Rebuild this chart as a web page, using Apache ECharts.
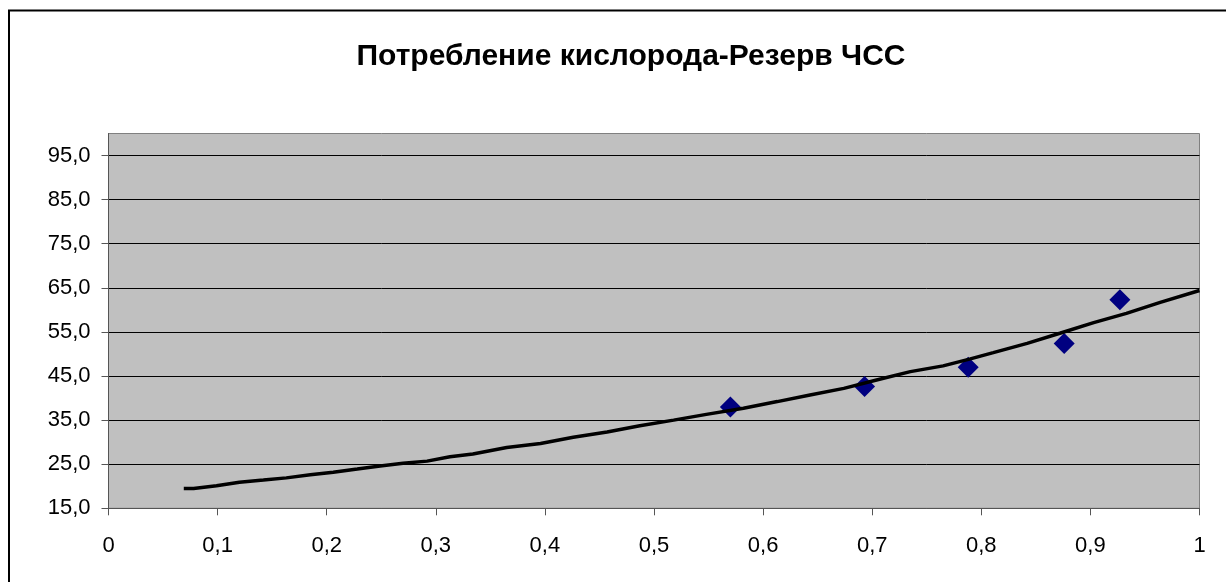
<!DOCTYPE html>
<html>
<head>
<meta charset="utf-8">
<script src="https://cdn.jsdelivr.net/npm/echarts@6/dist/echarts.min.js"></script>
<style>
html,body{margin:0;padding:0;background:#fff;}
#chart{width:1226px;height:582px;}
</style>
</head>
<body>
<div id="chart"></div>
<script>
var titleText = 'Потребление кислорода-Резерв ЧСС';
// measured points
var pointX = [0.570, 0.693, 0.788, 0.876, 0.927];
var pointY = [38.0, 42.6, 47.0, 52.4, 62.3];
// trend line
var trendX = [0.069, 0.078, 0.099, 0.12, 0.142, 0.163, 0.185, 0.206, 0.228, 0.249, 0.27, 0.292, 0.313, 0.334, 0.365, 0.396, 0.426, 0.457, 0.487, 0.518, 0.548, 0.582, 0.613, 0.643, 0.674, 0.704, 0.735, 0.765, 0.79, 0.811, 0.842, 0.872, 0.903, 0.933, 0.964, 1.0];
var trendY = [19.5, 19.5, 20.1, 20.9, 21.4, 21.9, 22.6, 23.2, 23.9, 24.6, 25.2, 25.7, 26.7, 27.3, 28.8, 29.7, 31.1, 32.3, 33.7, 35.0, 36.3, 37.7, 39.2, 40.7, 42.2, 44.1, 46.0, 47.3, 48.9, 50.3, 52.4, 54.7, 57.1, 59.2, 61.7, 64.4];
var xMin = 0, xMax = 1, xStep = 0.1;
var yMin = 15, yMax = 100, yStep = 10;

var pts = pointX.map(function(x, i){ return [x, pointY[i]]; });
var trend = trendX.map(function(x, i){ return [x, trendY[i]]; });

var chart = echarts.init(document.getElementById('chart'));
var font = '"Liberation Sans", Arial, sans-serif';
chart.setOption({
  animation: false,
  backgroundColor: '#ffffff',
  title: {
    text: titleText,
    left: 626,
    top: 37,
    textAlign: 'center',
    textStyle: { fontFamily: font, fontSize: 30, fontWeight: 'bold', color: '#000' }
  },
  graphic: [{
    type: 'rect',
    shape: { x: 9, y: 10.5, width: 1400, height: 800 },
    style: { fill: 'none', stroke: '#000', lineWidth: 2 },
    silent: true, z: 100
  }],
  grid: {
    left: 108.5, right: 26.5, top: 133.5, bottom: 73.7,
    show: true, backgroundColor: '#c0c0c0', borderColor: '#808080', borderWidth: 1
  },
  xAxis: {
    type: 'value', min: xMin, max: xMax, interval: xStep,
    axisLine: { show: true, onZero: false, lineStyle: { color: '#555', width: 1 } },
    axisTick: { show: true, length: 7, lineStyle: { color: '#555' } },
    splitLine: { show: false },
    axisLabel: {
      margin: 27, color: '#000', fontFamily: font, fontSize: 22,
      formatter: function(v){ return String(Math.round(v*10)/10).replace('.', ','); }
    }
  },
  yAxis: {
    type: 'value', min: yMin, max: yMax, interval: yStep,
    axisLine: { show: true, onZero: false, lineStyle: { color: '#555', width: 1 } },
    axisTick: { show: true, length: 7, lineStyle: { color: '#555' } },
    splitLine: { show: true, showMinLine: false, showMaxLine: false, lineStyle: { color: '#000', width: 1 } },
    axisLabel: {
      margin: 18, color: '#000', fontFamily: font, fontSize: 22, showMaxLabel: false,
      formatter: function(v){ return v.toFixed(1).replace('.', ','); }
    }
  },
  series: [{
    type: 'scatter',
    data: pts,
    symbol: 'diamond',
    symbolSize: 21,
    itemStyle: { color: '#000080', opacity: 1 },
    z: 2
  }, {
    type: 'line',
    data: trend,
    symbol: 'none',
    smooth: false,
    lineStyle: { color: '#000', width: 3.5 },
    z: 3
  }]
});
</script>
</body>
</html>
